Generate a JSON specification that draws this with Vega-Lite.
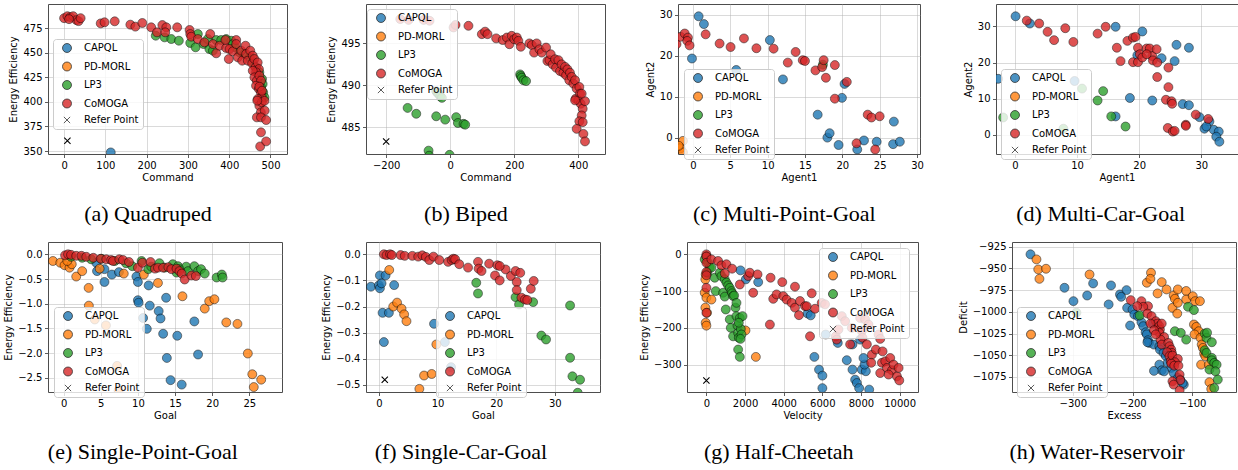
{
"$schema": "https://vega.github.io/schema/vega-lite/v6.json",
"padding": {"left": 3, "top": 3, "right": 0, "bottom": 0},
"spacing": 15,
"align": "none",
"resolve": {"scale": {"color": "independent", "shape": "independent"}, "legend": {"color": "independent", "shape": "independent"}},
"datasets": {
"a": [
{"x":113,"y":348.6,"m":"CAPQL"},
{"x":222,"y":467.2,"m":"LP3"},{"x":243.5,"y":465.5,"m":"LP3"},{"x":259.7,"y":463.8,"m":"LP3"},{"x":278,"y":462.1,"m":"LP3"},{"x":305.6,"y":459.8,"m":"LP3"},{"x":318.5,"y":455.4,"m":"LP3"},{"x":324,"y":468.9,"m":"LP3"},{"x":338,"y":458.7,"m":"LP3"},{"x":352,"y":453.7,"m":"LP3"},{"x":360.5,"y":452,"m":"LP3"},{"x":368.5,"y":462.8,"m":"LP3"},{"x":380.6,"y":462.8,"m":"LP3"},{"x":392.7,"y":463.8,"m":"LP3"},{"x":405,"y":462.1,"m":"LP3"},{"x":409,"y":458.7,"m":"LP3"},{"x":415,"y":455.4,"m":"LP3"},{"x":425,"y":450.3,"m":"LP3"},{"x":437,"y":448.6,"m":"LP3"},{"x":450,"y":445.2,"m":"LP3"},{"x":457,"y":440.1,"m":"LP3"},{"x":465,"y":435,"m":"LP3"},{"x":473,"y":430,"m":"LP3"},{"x":479.5,"y":423.2,"m":"LP3"},{"x":481,"y":418.1,"m":"LP3"},{"x":482.3,"y":409.6,"m":"LP3"},{"x":485.5,"y":404.5,"m":"LP3"},{"x":477,"y":414.7,"m":"LP3"},{"x":348,"y":463.8,"m":"LP3"},
{"x":0,"y":485,"m":"CoMOGA"},{"x":8,"y":487,"m":"CoMOGA"},{"x":15,"y":486,"m":"CoMOGA"},{"x":22,"y":487,"m":"CoMOGA"},{"x":30,"y":483,"m":"CoMOGA"},{"x":35,"y":482,"m":"CoMOGA"},{"x":40,"y":485,"m":"CoMOGA"},{"x":12,"y":484,"m":"CoMOGA"},{"x":88.7,"y":479.7,"m":"CoMOGA"},{"x":98,"y":480.8,"m":"CoMOGA"},{"x":122.6,"y":481.8,"m":"CoMOGA"},{"x":160.5,"y":478.4,"m":"CoMOGA"},{"x":172.6,"y":476.4,"m":"CoMOGA"},{"x":189.5,"y":480.1,"m":"CoMOGA"},{"x":211,"y":475.7,"m":"CoMOGA"},{"x":225,"y":470.6,"m":"CoMOGA"},{"x":238,"y":478,"m":"CoMOGA"},{"x":247.6,"y":475.7,"m":"CoMOGA"},{"x":245,"y":470.6,"m":"CoMOGA"},{"x":274,"y":475.7,"m":"CoMOGA"},{"x":304,"y":473,"m":"CoMOGA"},{"x":305.6,"y":468.9,"m":"CoMOGA"},{"x":308,"y":466.2,"m":"CoMOGA"},{"x":324,"y":463.8,"m":"CoMOGA"},{"x":340,"y":460.4,"m":"CoMOGA"},{"x":354,"y":468.9,"m":"CoMOGA"},{"x":360.5,"y":458.7,"m":"CoMOGA"},{"x":368.5,"y":449.3,"m":"CoMOGA"},{"x":376.6,"y":457,"m":"CoMOGA"},{"x":392.7,"y":454.7,"m":"CoMOGA"},{"x":391,"y":462.8,"m":"CoMOGA"},{"x":400.8,"y":453.7,"m":"CoMOGA"},{"x":399,"y":443.5,"m":"CoMOGA"},{"x":408.9,"y":451.3,"m":"CoMOGA"},{"x":417,"y":462.8,"m":"CoMOGA"},{"x":417,"y":458.7,"m":"CoMOGA"},{"x":421,"y":445.2,"m":"CoMOGA"},{"x":429,"y":452,"m":"CoMOGA"},{"x":431.5,"y":441.8,"m":"CoMOGA"},{"x":439.5,"y":457,"m":"CoMOGA"},{"x":441,"y":448.6,"m":"CoMOGA"},{"x":445,"y":441.8,"m":"CoMOGA"},{"x":451,"y":452,"m":"CoMOGA"},{"x":455.6,"y":439,"m":"CoMOGA"},{"x":457,"y":446.9,"m":"CoMOGA"},{"x":461,"y":443.5,"m":"CoMOGA"},{"x":463.7,"y":435,"m":"CoMOGA"},{"x":469,"y":440,"m":"CoMOGA"},{"x":472,"y":433.3,"m":"CoMOGA"},{"x":465,"y":430,"m":"CoMOGA"},{"x":457,"y":431.6,"m":"CoMOGA"},{"x":461,"y":424.9,"m":"CoMOGA"},{"x":467,"y":421.5,"m":"CoMOGA"},{"x":473,"y":426.6,"m":"CoMOGA"},{"x":477,"y":421.5,"m":"CoMOGA"},{"x":465,"y":416.4,"m":"CoMOGA"},{"x":472,"y":413,"m":"CoMOGA"},{"x":477,"y":409.6,"m":"CoMOGA"},{"x":473,"y":415.4,"m":"CoMOGA"},{"x":479,"y":404.5,"m":"CoMOGA"},{"x":469,"y":402.8,"m":"CoMOGA"},{"x":473,"y":396,"m":"CoMOGA"},{"x":479,"y":399.5,"m":"CoMOGA"},{"x":485.5,"y":401,"m":"CoMOGA"},{"x":476.6,"y":389.3,"m":"CoMOGA"},{"x":486,"y":391,"m":"CoMOGA"},{"x":467,"y":384.2,"m":"CoMOGA"},{"x":477,"y":384.2,"m":"CoMOGA"},{"x":489.5,"y":381.5,"m":"CoMOGA"},{"x":477,"y":369,"m":"CoMOGA"},{"x":475,"y":354.7,"m":"CoMOGA"},{"x":489.5,"y":359.8,"m":"CoMOGA"},{"x":468,"y":401.2,"m":"CoMOGA"},{"x":479.5,"y":411.3,"m":"CoMOGA"},
{"x":8,"y":360.5,"m":"Refer Point"}
],
"b": [
{"x":-133,"y":487.3,"m":"LP3"},{"x":-106,"y":486.6,"m":"LP3"},{"x":-43.7,"y":489.3,"m":"LP3"},{"x":-40,"y":489.1,"m":"LP3"},{"x":-36.4,"y":489,"m":"LP3"},{"x":-31.2,"y":488.7,"m":"LP3"},{"x":-26,"y":488.5,"m":"LP3"},{"x":-43.7,"y":486.3,"m":"LP3"},{"x":-15.6,"y":485.9,"m":"LP3"},{"x":18.7,"y":486.2,"m":"LP3"},{"x":24,"y":485.5,"m":"LP3"},{"x":41.6,"y":485.4,"m":"LP3"},{"x":46.8,"y":485.3,"m":"LP3"},{"x":218.4,"y":491.3,"m":"LP3"},{"x":220.5,"y":491.1,"m":"LP3"},{"x":223.6,"y":490.9,"m":"LP3"},{"x":228.8,"y":490.6,"m":"LP3"},{"x":237,"y":490.5,"m":"LP3"},{"x":-67.6,"y":482.2,"m":"LP3"},{"x":-2,"y":481.7,"m":"LP3"},{"x":-66,"y":481.6,"m":"LP3"},
{"x":-156,"y":497.9,"m":"CoMOGA"},{"x":-130,"y":497.8,"m":"CoMOGA"},{"x":-83,"y":497.8,"m":"CoMOGA"},{"x":-64.5,"y":497.7,"m":"CoMOGA"},{"x":10.4,"y":496.9,"m":"CoMOGA"},{"x":16.6,"y":497.2,"m":"CoMOGA"},{"x":57,"y":497.1,"m":"CoMOGA"},{"x":98.8,"y":496.1,"m":"CoMOGA"},{"x":109,"y":496.4,"m":"CoMOGA"},{"x":116.5,"y":496.1,"m":"CoMOGA"},{"x":143.5,"y":495.6,"m":"CoMOGA"},{"x":164,"y":495.4,"m":"CoMOGA"},{"x":177,"y":495.7,"m":"CoMOGA"},{"x":185,"y":494.9,"m":"CoMOGA"},{"x":192,"y":495.9,"m":"CoMOGA"},{"x":200,"y":495.5,"m":"CoMOGA"},{"x":208,"y":495.7,"m":"CoMOGA"},{"x":213,"y":495.3,"m":"CoMOGA"},{"x":220.5,"y":494.6,"m":"CoMOGA"},{"x":247.5,"y":495,"m":"CoMOGA"},{"x":255,"y":494.8,"m":"CoMOGA"},{"x":262,"y":493.9,"m":"CoMOGA"},{"x":270,"y":495,"m":"CoMOGA"},{"x":278.7,"y":494.3,"m":"CoMOGA"},{"x":286,"y":493.9,"m":"CoMOGA"},{"x":299.5,"y":494.5,"m":"CoMOGA"},{"x":303.6,"y":492.9,"m":"CoMOGA"},{"x":310,"y":493,"m":"CoMOGA"},{"x":314,"y":493.7,"m":"CoMOGA"},{"x":320,"y":492.5,"m":"CoMOGA"},{"x":327.5,"y":493.1,"m":"CoMOGA"},{"x":330.7,"y":492.1,"m":"CoMOGA"},{"x":338,"y":493,"m":"CoMOGA"},{"x":343,"y":491.7,"m":"CoMOGA"},{"x":348,"y":492.5,"m":"CoMOGA"},{"x":353.5,"y":491.5,"m":"CoMOGA"},{"x":358.7,"y":492.2,"m":"CoMOGA"},{"x":362,"y":491.2,"m":"CoMOGA"},{"x":366,"y":491.9,"m":"CoMOGA"},{"x":372,"y":490.6,"m":"CoMOGA"},{"x":374,"y":491.5,"m":"CoMOGA"},{"x":379.5,"y":491,"m":"CoMOGA"},{"x":384.7,"y":490.2,"m":"CoMOGA"},{"x":390,"y":490.6,"m":"CoMOGA"},{"x":395,"y":489.6,"m":"CoMOGA"},{"x":392,"y":488.4,"m":"CoMOGA"},{"x":403.4,"y":489.8,"m":"CoMOGA"},{"x":405.5,"y":489,"m":"CoMOGA"},{"x":400.3,"y":488.2,"m":"CoMOGA"},{"x":407.6,"y":487.8,"m":"CoMOGA"},{"x":413.8,"y":487.2,"m":"CoMOGA"},{"x":421,"y":488.1,"m":"CoMOGA"},{"x":410.7,"y":486.4,"m":"CoMOGA"},{"x":403.4,"y":485.7,"m":"CoMOGA"},{"x":413.8,"y":485.6,"m":"CoMOGA"},{"x":395,"y":484.8,"m":"CoMOGA"},{"x":416,"y":484.2,"m":"CoMOGA"},{"x":421,"y":483.3,"m":"CoMOGA"},{"x":410.7,"y":489,"m":"CoMOGA"},{"x":390,"y":488.2,"m":"CoMOGA"},
{"x":-200,"y":483.3,"m":"Refer Point"}
],
"c": [
{"x":0.76,"y":29.6,"m":"CAPQL"},{"x":1.47,"y":27.7,"m":"CAPQL"},{"x":-0.13,"y":19.3,"m":"CAPQL"},{"x":5.8,"y":16.5,"m":"CAPQL"},{"x":10.3,"y":23.8,"m":"CAPQL"},{"x":12.05,"y":14.2,"m":"CAPQL"},{"x":16.7,"y":5.6,"m":"CAPQL"},{"x":18,"y":0,"m":"CAPQL"},{"x":18.3,"y":1.07,"m":"CAPQL"},{"x":19.5,"y":-1.8,"m":"CAPQL"},{"x":20.3,"y":13.1,"m":"CAPQL"},{"x":19.95,"y":9.7,"m":"CAPQL"},{"x":22,"y":-2.9,"m":"CAPQL"},{"x":22.9,"y":-0.7,"m":"CAPQL"},{"x":24.6,"y":-1.0,"m":"CAPQL"},{"x":26.8,"y":-1.6,"m":"CAPQL"},{"x":27.7,"y":-1.0,"m":"CAPQL"},{"x":26.9,"y":3.9,"m":"CAPQL"},
{"x":-1.34,"y":-0.8,"m":"PD-MORL"},{"x":-1.65,"y":-2.6,"m":"PD-MORL"},{"x":-1.34,"y":-3.6,"m":"PD-MORL"},{"x":-1.9,"y":-2.0,"m":"PD-MORL"},
{"x":17.4,"y":17.8,"m":"LP3"},
{"x":-2.2,"y":22.8,"m":"CoMOGA"},{"x":-1.65,"y":24.6,"m":"CoMOGA"},{"x":-1.1,"y":25.4,"m":"CoMOGA"},{"x":-0.67,"y":24.4,"m":"CoMOGA"},{"x":-0.76,"y":23.6,"m":"CoMOGA"},{"x":-0.45,"y":22.5,"m":"CoMOGA"},{"x":1.7,"y":25.2,"m":"CoMOGA"},{"x":3.57,"y":22.95,"m":"CoMOGA"},{"x":5.04,"y":22.1,"m":"CoMOGA"},{"x":6.83,"y":24.2,"m":"CoMOGA"},{"x":8.5,"y":21.8,"m":"CoMOGA"},{"x":10.8,"y":21.7,"m":"CoMOGA"},{"x":12.7,"y":18.3,"m":"CoMOGA"},{"x":13.75,"y":20.9,"m":"CoMOGA"},{"x":14.7,"y":18.9,"m":"CoMOGA"},{"x":15.0,"y":18.7,"m":"CoMOGA"},{"x":16.4,"y":16.4,"m":"CoMOGA"},{"x":17.3,"y":17.2,"m":"CoMOGA"},{"x":17.5,"y":18.9,"m":"CoMOGA"},{"x":17.8,"y":14.6,"m":"CoMOGA"},{"x":19.0,"y":17.7,"m":"CoMOGA"},{"x":19.0,"y":9.5,"m":"CoMOGA"},{"x":20.6,"y":13.6,"m":"CoMOGA"},{"x":23.4,"y":5.6,"m":"CoMOGA"},{"x":23.9,"y":4.9,"m":"CoMOGA"},{"x":25.0,"y":5.2,"m":"CoMOGA"},{"x":21.9,"y":-1.4,"m":"CoMOGA"},{"x":24.4,"y":-2.9,"m":"CoMOGA"}
],
"d": [
{"x":0.1,"y":32.8,"m":"CAPQL"},{"x":2.4,"y":30.8,"m":"CAPQL"},{"x":-2.7,"y":15.5,"m":"CAPQL"},{"x":9.6,"y":14.9,"m":"CAPQL"},{"x":16.2,"y":29.9,"m":"CAPQL"},{"x":20.5,"y":28.6,"m":"CAPQL"},{"x":19.7,"y":22.0,"m":"CAPQL"},{"x":23.6,"y":21.2,"m":"CAPQL"},{"x":25.7,"y":20.4,"m":"CAPQL"},{"x":26,"y":24.9,"m":"CAPQL"},{"x":28,"y":24.1,"m":"CAPQL"},{"x":18.5,"y":10.2,"m":"CAPQL"},{"x":22.1,"y":9.5,"m":"CAPQL"},{"x":16.2,"y":5.1,"m":"CAPQL"},{"x":27,"y":8.5,"m":"CAPQL"},{"x":28,"y":8.2,"m":"CAPQL"},{"x":29.7,"y":4.9,"m":"CAPQL"},{"x":30.5,"y":1.7,"m":"CAPQL"},{"x":31.3,"y":3.7,"m":"CAPQL"},{"x":32,"y":1.4,"m":"CAPQL"},{"x":32.8,"y":0.9,"m":"CAPQL"},{"x":32.4,"y":-0.5,"m":"CAPQL"},{"x":32.9,"y":-1.9,"m":"CAPQL"},{"x":30.8,"y":2.3,"m":"CAPQL"},
{"x":-1.9,"y":4.8,"m":"LP3"},{"x":10.8,"y":12.8,"m":"LP3"},{"x":7.8,"y":1.7,"m":"LP3"},{"x":14.2,"y":12.1,"m":"LP3"},{"x":13.3,"y":9.5,"m":"LP3"},{"x":15.5,"y":5.1,"m":"LP3"},{"x":17.8,"y":2.3,"m":"LP3"},
{"x":1.9,"y":31.6,"m":"CoMOGA"},{"x":3.9,"y":30.8,"m":"CoMOGA"},{"x":5.25,"y":28.5,"m":"CoMOGA"},{"x":6.3,"y":26.2,"m":"CoMOGA"},{"x":8.1,"y":29.5,"m":"CoMOGA"},{"x":9.4,"y":25.7,"m":"CoMOGA"},{"x":13.3,"y":28.0,"m":"CoMOGA"},{"x":14.6,"y":29.9,"m":"CoMOGA"},{"x":16.4,"y":24.1,"m":"CoMOGA"},{"x":18.1,"y":26.0,"m":"CoMOGA"},{"x":17.0,"y":20.4,"m":"CoMOGA"},{"x":19,"y":26.9,"m":"CoMOGA"},{"x":19.4,"y":27.1,"m":"CoMOGA"},{"x":19.8,"y":24.1,"m":"CoMOGA"},{"x":19.0,"y":20.1,"m":"CoMOGA"},{"x":19.8,"y":20.1,"m":"CoMOGA"},{"x":20.1,"y":22.3,"m":"CoMOGA"},{"x":20.5,"y":21.4,"m":"CoMOGA"},{"x":21.2,"y":23.9,"m":"CoMOGA"},{"x":21.7,"y":23.9,"m":"CoMOGA"},{"x":22.1,"y":21.8,"m":"CoMOGA"},{"x":22.2,"y":20.6,"m":"CoMOGA"},{"x":22.8,"y":23.7,"m":"CoMOGA"},{"x":22.9,"y":20.0,"m":"CoMOGA"},{"x":22.9,"y":16.0,"m":"CoMOGA"},{"x":24.7,"y":18.6,"m":"CoMOGA"},{"x":24.7,"y":13.2,"m":"CoMOGA"},{"x":24.3,"y":9.7,"m":"CoMOGA"},{"x":25.2,"y":9.3,"m":"CoMOGA"},{"x":25.3,"y":8.6,"m":"CoMOGA"},{"x":24.6,"y":1.9,"m":"CoMOGA"},{"x":25.4,"y":0.9,"m":"CoMOGA"},{"x":25.7,"y":1.1,"m":"CoMOGA"},{"x":27.5,"y":2.8,"m":"CoMOGA"},{"x":27.5,"y":2.5,"m":"CoMOGA"},{"x":29.1,"y":5.6,"m":"CoMOGA"},{"x":31.1,"y":4.4,"m":"CoMOGA"},{"x":21.2,"y":22.3,"m":"CoMOGA"}
],
"e": [
{"x":4.4,"y":-0.17,"m":"CAPQL"},{"x":4.5,"y":-0.34,"m":"CAPQL"},{"x":5.5,"y":-0.30,"m":"CAPQL"},{"x":5.5,"y":-0.56,"m":"CAPQL"},{"x":6.5,"y":-0.41,"m":"CAPQL"},{"x":7.45,"y":-0.36,"m":"CAPQL"},{"x":9.8,"y":-0.45,"m":"CAPQL"},{"x":10.0,"y":-0.56,"m":"CAPQL"},{"x":10.0,"y":-0.93,"m":"CAPQL"},{"x":10.1,"y":-0.98,"m":"CAPQL"},{"x":10.7,"y":-1.29,"m":"CAPQL"},{"x":11.2,"y":-1.51,"m":"CAPQL"},{"x":11.45,"y":-0.63,"m":"CAPQL"},{"x":11.6,"y":-1.04,"m":"CAPQL"},{"x":12.8,"y":-1.15,"m":"CAPQL"},{"x":13.05,"y":-1.30,"m":"CAPQL"},{"x":13.4,"y":-1.61,"m":"CAPQL"},{"x":13.8,"y":-0.88,"m":"CAPQL"},{"x":13.9,"y":-2.10,"m":"CAPQL"},{"x":14.4,"y":-2.55,"m":"CAPQL"},{"x":15.3,"y":-1.65,"m":"CAPQL"},{"x":15.9,"y":-2.64,"m":"CAPQL"},{"x":17.6,"y":-1.36,"m":"CAPQL"},{"x":18.1,"y":-2.03,"m":"CAPQL"},
{"x":-1.44,"y":-0.135,"m":"PD-MORL"},{"x":-0.45,"y":-0.17,"m":"PD-MORL"},{"x":0.13,"y":-0.22,"m":"PD-MORL"},{"x":0.8,"y":-0.27,"m":"PD-MORL"},{"x":1.1,"y":-0.2,"m":"PD-MORL"},{"x":0.5,"y":-0.135,"m":"PD-MORL"},{"x":1.7,"y":-0.45,"m":"PD-MORL"},{"x":2.5,"y":-0.34,"m":"PD-MORL"},{"x":3.37,"y":-0.68,"m":"PD-MORL"},{"x":3.4,"y":-1.04,"m":"PD-MORL"},{"x":4.2,"y":-1.32,"m":"PD-MORL"},{"x":5.7,"y":-1.44,"m":"PD-MORL"},{"x":4.85,"y":-0.29,"m":"PD-MORL"},{"x":8.1,"y":-0.39,"m":"PD-MORL"},{"x":7.2,"y":-2.26,"m":"PD-MORL"},{"x":7.4,"y":-2.76,"m":"PD-MORL"},{"x":10.8,"y":-0.41,"m":"PD-MORL"},{"x":12.7,"y":-0.58,"m":"PD-MORL"},{"x":16.0,"y":-0.85,"m":"PD-MORL"},{"x":19.0,"y":-1.10,"m":"PD-MORL"},{"x":19.6,"y":-0.95,"m":"PD-MORL"},{"x":20.3,"y":-0.91,"m":"PD-MORL"},{"x":21.9,"y":-1.38,"m":"PD-MORL"},{"x":23.4,"y":-1.41,"m":"PD-MORL"},{"x":24.8,"y":-2.01,"m":"PD-MORL"},{"x":25.4,"y":-2.43,"m":"PD-MORL"},{"x":25.6,"y":-2.69,"m":"PD-MORL"},{"x":26.6,"y":-2.54,"m":"PD-MORL"},
{"x":1.0,"y":-0.05,"m":"LP3"},{"x":2.5,"y":-0.07,"m":"LP3"},{"x":3.7,"y":-0.1,"m":"LP3"},{"x":5.1,"y":-0.09,"m":"LP3"},{"x":6.9,"y":-0.135,"m":"LP3"},{"x":8.4,"y":-0.18,"m":"LP3"},{"x":9.25,"y":-0.24,"m":"LP3"},{"x":10.5,"y":-0.135,"m":"LP3"},{"x":11.4,"y":-0.3,"m":"LP3"},{"x":11.8,"y":-0.25,"m":"LP3"},{"x":12.9,"y":-0.18,"m":"LP3"},{"x":13.6,"y":-0.27,"m":"LP3"},{"x":14.7,"y":-0.2,"m":"LP3"},{"x":15.4,"y":-0.24,"m":"LP3"},{"x":16.5,"y":-0.25,"m":"LP3"},{"x":16.75,"y":-0.34,"m":"LP3"},{"x":17.6,"y":-0.24,"m":"LP3"},{"x":18.1,"y":-0.34,"m":"LP3"},{"x":18.5,"y":-0.30,"m":"LP3"},{"x":19.0,"y":-0.39,"m":"LP3"},{"x":20.6,"y":-0.47,"m":"LP3"},{"x":21.3,"y":-0.41,"m":"LP3"},{"x":21.4,"y":-0.47,"m":"LP3"},{"x":15.6,"y":-0.3,"m":"LP3"},{"x":15.2,"y":-0.37,"m":"LP3"},
{"x":0.2,"y":-0.02,"m":"CoMOGA"},{"x":0.6,"y":0,"m":"CoMOGA"},{"x":1.0,"y":-0.01,"m":"CoMOGA"},{"x":1.7,"y":-0.03,"m":"CoMOGA"},{"x":2.4,"y":-0.03,"m":"CoMOGA"},{"x":3.05,"y":-0.05,"m":"CoMOGA"},{"x":4.0,"y":-0.07,"m":"CoMOGA"},{"x":5.0,"y":-0.09,"m":"CoMOGA"},{"x":5.75,"y":-0.1,"m":"CoMOGA"},{"x":6.4,"y":-0.115,"m":"CoMOGA"},{"x":6.65,"y":-0.135,"m":"CoMOGA"},{"x":7.5,"y":-0.1,"m":"CoMOGA"},{"x":8.0,"y":-0.115,"m":"CoMOGA"},{"x":8.8,"y":-0.155,"m":"CoMOGA"},{"x":10.0,"y":-0.27,"m":"CoMOGA"},{"x":10.6,"y":-0.17,"m":"CoMOGA"},{"x":11.7,"y":-0.155,"m":"CoMOGA"},{"x":12.3,"y":-0.29,"m":"CoMOGA"},{"x":12.7,"y":-0.27,"m":"CoMOGA"},{"x":13.4,"y":-0.27,"m":"CoMOGA"},{"x":14.1,"y":-0.26,"m":"CoMOGA"},{"x":14.5,"y":-0.3,"m":"CoMOGA"},{"x":15.2,"y":-0.29,"m":"CoMOGA"},{"x":15.6,"y":-0.34,"m":"CoMOGA"},{"x":15.9,"y":-0.39,"m":"CoMOGA"},{"x":16.3,"y":-0.51,"m":"CoMOGA"},{"x":17.2,"y":-0.43,"m":"CoMOGA"},{"x":17.8,"y":-0.44,"m":"CoMOGA"}
],
"f": [
{"x":-1.36,"y":-0.124,"m":"CAPQL"},{"x":0.17,"y":-0.081,"m":"CAPQL"},{"x":0,"y":-0.119,"m":"CAPQL"},{"x":0.17,"y":-0.13,"m":"CAPQL"},{"x":0.45,"y":-0.111,"m":"CAPQL"},{"x":1.14,"y":-0.081,"m":"CAPQL"},{"x":2.6,"y":-0.118,"m":"CAPQL"},{"x":0.63,"y":-0.224,"m":"CAPQL"},{"x":1.7,"y":-0.224,"m":"CAPQL"},{"x":0.85,"y":-0.336,"m":"CAPQL"},{"x":9.4,"y":-0.266,"m":"CAPQL"},{"x":11.25,"y":-0.336,"m":"CAPQL"},{"x":12.3,"y":-0.432,"m":"CAPQL"},
{"x":1.76,"y":-0.06,"m":"PD-MORL"},{"x":2.44,"y":-0.2,"m":"PD-MORL"},{"x":3.1,"y":-0.185,"m":"PD-MORL"},{"x":3.86,"y":-0.208,"m":"PD-MORL"},{"x":4.3,"y":-0.23,"m":"PD-MORL"},{"x":4.7,"y":-0.256,"m":"PD-MORL"},{"x":9.8,"y":-0.345,"m":"PD-MORL"},{"x":7.7,"y":-0.464,"m":"PD-MORL"},{"x":9.0,"y":-0.458,"m":"PD-MORL"},{"x":6.9,"y":-0.515,"m":"PD-MORL"},
{"x":16.6,"y":-0.109,"m":"LP3"},{"x":16.9,"y":-0.15,"m":"LP3"},{"x":23.3,"y":-0.164,"m":"LP3"},{"x":23.9,"y":-0.192,"m":"LP3"},{"x":26.3,"y":-0.183,"m":"LP3"},{"x":27.7,"y":-0.311,"m":"LP3"},{"x":28.5,"y":-0.326,"m":"LP3"},{"x":32.6,"y":-0.196,"m":"LP3"},{"x":32.6,"y":-0.396,"m":"LP3"},{"x":33.0,"y":-0.467,"m":"LP3"},{"x":34.3,"y":-0.48,"m":"LP3"},{"x":33.9,"y":-0.53,"m":"LP3"},
{"x":0.85,"y":0,"m":"CoMOGA"},{"x":1.3,"y":-0.003,"m":"CoMOGA"},{"x":1.9,"y":0,"m":"CoMOGA"},{"x":2.2,"y":-0.003,"m":"CoMOGA"},{"x":3.7,"y":-0.003,"m":"CoMOGA"},{"x":4.4,"y":-0.006,"m":"CoMOGA"},{"x":5.7,"y":-0.006,"m":"CoMOGA"},{"x":6.7,"y":-0.009,"m":"CoMOGA"},{"x":7.4,"y":-0.004,"m":"CoMOGA"},{"x":8.0,"y":-0.01,"m":"CoMOGA"},{"x":8.6,"y":-0.022,"m":"CoMOGA"},{"x":9.3,"y":-0.009,"m":"CoMOGA"},{"x":10.3,"y":-0.022,"m":"CoMOGA"},{"x":11.8,"y":-0.029,"m":"CoMOGA"},{"x":12.4,"y":-0.022,"m":"CoMOGA"},{"x":12.7,"y":-0.017,"m":"CoMOGA"},{"x":13.0,"y":-0.019,"m":"CoMOGA"},{"x":13.7,"y":-0.038,"m":"CoMOGA"},{"x":15.2,"y":-0.051,"m":"CoMOGA"},{"x":16.9,"y":-0.029,"m":"CoMOGA"},{"x":17.0,"y":-0.055,"m":"CoMOGA"},{"x":17.5,"y":-0.064,"m":"CoMOGA"},{"x":18.8,"y":-0.036,"m":"CoMOGA"},{"x":19.8,"y":-0.081,"m":"CoMOGA"},{"x":20.2,"y":-0.042,"m":"CoMOGA"},{"x":20.6,"y":-0.1,"m":"CoMOGA"},{"x":21.6,"y":-0.058,"m":"CoMOGA"},{"x":22.5,"y":-0.083,"m":"CoMOGA"},{"x":23.3,"y":-0.064,"m":"CoMOGA"},{"x":23.5,"y":-0.106,"m":"CoMOGA"},{"x":23.5,"y":-0.137,"m":"CoMOGA"},{"x":24.1,"y":-0.071,"m":"CoMOGA"},{"x":24.3,"y":-0.166,"m":"CoMOGA"},{"x":24.9,"y":-0.173,"m":"CoMOGA"},{"x":25.3,"y":-0.175,"m":"CoMOGA"},{"x":25.9,"y":-0.132,"m":"CoMOGA"},{"x":26.4,"y":-0.102,"m":"CoMOGA"},{"x":20.6,"y":-0.045,"m":"CoMOGA"},
{"x":1.0,"y":-0.48,"m":"Refer Point"}
],
"g": [
{"x":1765,"y":-43.6,"m":"CAPQL"},{"x":2041,"y":-68,"m":"CAPQL"},{"x":2681,"y":-75.5,"m":"CAPQL"},{"x":5242,"y":-161,"m":"CAPQL"},{"x":5398,"y":-166,"m":"CAPQL"},{"x":5588,"y":-279,"m":"CAPQL"},{"x":5830,"y":-313.6,"m":"CAPQL"},{"x":6003,"y":-330,"m":"CAPQL"},{"x":6003,"y":-364,"m":"CAPQL"},{"x":6176,"y":-218,"m":"CAPQL"},{"x":6799,"y":-241,"m":"CAPQL"},{"x":7266,"y":-288,"m":"CAPQL"},{"x":7560,"y":-245,"m":"CAPQL"},{"x":7560,"y":-313.6,"m":"CAPQL"},{"x":7698,"y":-341,"m":"CAPQL"},{"x":7785,"y":-350,"m":"CAPQL"},{"x":7906,"y":-364,"m":"CAPQL"},{"x":8044,"y":-313.6,"m":"CAPQL"},{"x":8252,"y":-318,"m":"CAPQL"},{"x":8183,"y":-300,"m":"CAPQL"},{"x":8425,"y":-368,"m":"CAPQL"},{"x":7958,"y":-232,"m":"CAPQL"},{"x":8131,"y":-282,"m":"CAPQL"},
{"x":-35,"y":-54.5,"m":"PD-MORL"},{"x":-52,"y":-68,"m":"PD-MORL"},{"x":-87,"y":-104.5,"m":"PD-MORL"},{"x":0,"y":-118,"m":"PD-MORL"},{"x":-52,"y":-145,"m":"PD-MORL"},{"x":35,"y":-159,"m":"PD-MORL"},{"x":-35,"y":-186,"m":"PD-MORL"},{"x":0,"y":-194,"m":"PD-MORL"},{"x":260,"y":-123,"m":"PD-MORL"},{"x":2024,"y":-207,"m":"PD-MORL"},{"x":2560,"y":-279,"m":"PD-MORL"},
{"x":-87,"y":-13.6,"m":"LP3"},{"x":0,"y":-4.5,"m":"LP3"},{"x":87,"y":-22.7,"m":"LP3"},{"x":173,"y":-36,"m":"LP3"},{"x":52,"y":-50,"m":"LP3"},{"x":260,"y":-36,"m":"LP3"},{"x":433,"y":-63.6,"m":"LP3"},{"x":484,"y":-100,"m":"LP3"},{"x":692,"y":-50,"m":"LP3"},{"x":779,"y":-59,"m":"LP3"},{"x":865,"y":-104.5,"m":"LP3"},{"x":952,"y":-68,"m":"LP3"},{"x":952,"y":-115,"m":"LP3"},{"x":1038,"y":-77,"m":"LP3"},{"x":1125,"y":-84.5,"m":"LP3"},{"x":1211,"y":-91,"m":"LP3"},{"x":1298,"y":-100,"m":"LP3"},{"x":1332,"y":-106,"m":"LP3"},{"x":1384,"y":-113.6,"m":"LP3"},{"x":1436,"y":-112,"m":"LP3"},{"x":1003,"y":-150,"m":"LP3"},{"x":1211,"y":-177,"m":"LP3"},{"x":1263,"y":-200,"m":"LP3"},{"x":1384,"y":-223,"m":"LP3"},{"x":1505,"y":-145,"m":"LP3"},{"x":1557,"y":-168,"m":"LP3"},{"x":1609,"y":-194,"m":"LP3"},{"x":1644,"y":-214,"m":"LP3"},{"x":1678,"y":-227,"m":"LP3"},{"x":1730,"y":-173,"m":"LP3"},{"x":1782,"y":-203,"m":"LP3"},{"x":1817,"y":-218,"m":"LP3"},{"x":1869,"y":-168,"m":"LP3"},{"x":1644,"y":-259,"m":"LP3"},{"x":1730,"y":-279,"m":"LP3"},{"x":1557,"y":-132,"m":"LP3"},{"x":1678,"y":-186,"m":"LP3"},{"x":1765,"y":-230,"m":"LP3"},
{"x":0,"y":0,"m":"CoMOGA"},{"x":0,"y":-6,"m":"CoMOGA"},{"x":0,"y":-23,"m":"CoMOGA"},{"x":0,"y":-48,"m":"CoMOGA"},{"x":0,"y":-57,"m":"CoMOGA"},{"x":0,"y":-91,"m":"CoMOGA"},{"x":0,"y":-159,"m":"CoMOGA"},{"x":260,"y":-13.6,"m":"CoMOGA"},{"x":606,"y":-18,"m":"CoMOGA"},{"x":779,"y":-30,"m":"CoMOGA"},{"x":1038,"y":-27,"m":"CoMOGA"},{"x":1332,"y":-39,"m":"CoMOGA"},{"x":952,"y":-52,"m":"CoMOGA"},{"x":1730,"y":-82,"m":"CoMOGA"},{"x":2163,"y":-59,"m":"CoMOGA"},{"x":2249,"y":-50,"m":"CoMOGA"},{"x":2422,"y":-104.5,"m":"CoMOGA"},{"x":2647,"y":-54.5,"m":"CoMOGA"},{"x":3322,"y":-63.6,"m":"CoMOGA"},{"x":3460,"y":-121,"m":"CoMOGA"},{"x":3287,"y":-191,"m":"CoMOGA"},{"x":3633,"y":-109,"m":"CoMOGA"},{"x":3927,"y":-75.5,"m":"CoMOGA"},{"x":3979,"y":-113.6,"m":"CoMOGA"},{"x":4152,"y":-123,"m":"CoMOGA"},{"x":4412,"y":-132,"m":"CoMOGA"},{"x":4585,"y":-145,"m":"CoMOGA"},{"x":4585,"y":-88,"m":"CoMOGA"},{"x":4792,"y":-165.5,"m":"CoMOGA"},{"x":4844,"y":-127,"m":"CoMOGA"},{"x":5103,"y":-141,"m":"CoMOGA"},{"x":5363,"y":-223,"m":"CoMOGA"},{"x":5450,"y":-106,"m":"CoMOGA"},{"x":5190,"y":-141,"m":"CoMOGA"},{"x":5623,"y":-148,"m":"CoMOGA"},{"x":5969,"y":-132,"m":"CoMOGA"},{"x":6142,"y":-136,"m":"CoMOGA"},{"x":6695,"y":-223,"m":"CoMOGA"},{"x":6834,"y":-204.5,"m":"CoMOGA"},{"x":6747,"y":-232,"m":"CoMOGA"},{"x":7007,"y":-168,"m":"CoMOGA"},{"x":7180,"y":-182,"m":"CoMOGA"},{"x":7439,"y":-245,"m":"CoMOGA"},{"x":7526,"y":-200,"m":"CoMOGA"},{"x":7958,"y":-173,"m":"CoMOGA"},{"x":8044,"y":-209,"m":"CoMOGA"},{"x":8079,"y":-227,"m":"CoMOGA"},{"x":8218,"y":-177,"m":"CoMOGA"},{"x":8304,"y":-245,"m":"CoMOGA"},{"x":8390,"y":-191,"m":"CoMOGA"},{"x":8564,"y":-273,"m":"CoMOGA"},{"x":8771,"y":-259,"m":"CoMOGA"},{"x":8910,"y":-218,"m":"CoMOGA"},{"x":8996,"y":-230,"m":"CoMOGA"},{"x":9083,"y":-295,"m":"CoMOGA"},{"x":9117,"y":-264,"m":"CoMOGA"},{"x":9256,"y":-291,"m":"CoMOGA"},{"x":9342,"y":-309,"m":"CoMOGA"},{"x":9515,"y":-282,"m":"CoMOGA"},{"x":9602,"y":-315.5,"m":"CoMOGA"},{"x":9688,"y":-300,"m":"CoMOGA"},{"x":9861,"y":-332,"m":"CoMOGA"},{"x":9948,"y":-309,"m":"CoMOGA"},{"x":9982,"y":-343,"m":"CoMOGA"},{"x":8996,"y":-323,"m":"CoMOGA"},{"x":9429,"y":-327,"m":"CoMOGA"},{"x":8529,"y":-295,"m":"CoMOGA"},
{"x":0,"y":-343,"m":"Refer Point"}
],
"h": [
{"x":-371,"y":-933.8,"m":"CAPQL"},{"x":-314,"y":-972.3,"m":"CAPQL"},{"x":-299,"y":-987.7,"m":"CAPQL"},{"x":-276,"y":-981.2,"m":"CAPQL"},{"x":-266,"y":-967.3,"m":"CAPQL"},{"x":-240,"y":-991.5,"m":"CAPQL"},{"x":-236,"y":-969.6,"m":"CAPQL"},{"x":-221,"y":-980,"m":"CAPQL"},{"x":-210,"y":-975,"m":"CAPQL"},{"x":-204,"y":-1015.8,"m":"CAPQL"},{"x":-219,"y":-982.7,"m":"CAPQL"},{"x":-209,"y":-995.4,"m":"CAPQL"},{"x":-200,"y":-997.3,"m":"CAPQL"},{"x":-197,"y":-1003,"m":"CAPQL"},{"x":-191,"y":-1005,"m":"CAPQL"},{"x":-185,"y":-1012,"m":"CAPQL"},{"x":-182,"y":-1016.5,"m":"CAPQL"},{"x":-178,"y":-1023.5,"m":"CAPQL"},{"x":-176,"y":-1026,"m":"CAPQL"},{"x":-174,"y":-1032.7,"m":"CAPQL"},{"x":-172,"y":-1035.8,"m":"CAPQL"},{"x":-164,"y":-1037.7,"m":"CAPQL"},{"x":-155,"y":-1039.6,"m":"CAPQL"},{"x":-154,"y":-1043.5,"m":"CAPQL"},{"x":-148,"y":-1047.3,"m":"CAPQL"},{"x":-144,"y":-1051,"m":"CAPQL"},{"x":-141,"y":-1058.8,"m":"CAPQL"},{"x":-135,"y":-1064.6,"m":"CAPQL"},{"x":-131,"y":-1070.4,"m":"CAPQL"},{"x":-124,"y":-1076.2,"m":"CAPQL"},{"x":-114,"y":-1083.8,"m":"CAPQL"},{"x":-155,"y":-1060.8,"m":"CAPQL"},{"x":-151,"y":-1067.3,"m":"CAPQL"},{"x":-166,"y":-1013.5,"m":"CAPQL"},{"x":-147,"y":-1068.5,"m":"CAPQL"},{"x":-120,"y":-1078,"m":"CAPQL"},{"x":-116,"y":-1082,"m":"CAPQL"},{"x":-175,"y":-1035,"m":"CAPQL"},{"x":-164,"y":-1068,"m":"CAPQL"},
{"x":-361,"y":-939.6,"m":"PD-MORL"},{"x":-358,"y":-951.2,"m":"PD-MORL"},{"x":-345,"y":-950.4,"m":"PD-MORL"},{"x":-356,"y":-962,"m":"PD-MORL"},{"x":-272,"y":-957,"m":"PD-MORL"},{"x":-176,"y":-966.5,"m":"PD-MORL"},{"x":-169,"y":-955,"m":"PD-MORL"},{"x":-170,"y":-962,"m":"PD-MORL"},{"x":-158,"y":-978.8,"m":"PD-MORL"},{"x":-151,"y":-965.8,"m":"PD-MORL"},{"x":-143,"y":-974.2,"m":"PD-MORL"},{"x":-131,"y":-981.2,"m":"PD-MORL"},{"x":-129,"y":-985,"m":"PD-MORL"},{"x":-124,"y":-974.2,"m":"PD-MORL"},{"x":-110,"y":-976,"m":"PD-MORL"},{"x":-110,"y":-985.8,"m":"PD-MORL"},{"x":-99,"y":-982,"m":"PD-MORL"},{"x":-95,"y":-987.7,"m":"PD-MORL"},{"x":-87,"y":-987.7,"m":"PD-MORL"},{"x":-133,"y":-995.4,"m":"PD-MORL"},{"x":-125,"y":-1002,"m":"PD-MORL"},{"x":-124,"y":-989.6,"m":"PD-MORL"},{"x":-97,"y":-1014.6,"m":"PD-MORL"},{"x":-93,"y":-1017.3,"m":"PD-MORL"},{"x":-89,"y":-1022.3,"m":"PD-MORL"},{"x":-96,"y":-1026,"m":"PD-MORL"},{"x":-86,"y":-1030,"m":"PD-MORL"},{"x":-84,"y":-1037.7,"m":"PD-MORL"},{"x":-82,"y":-1041.5,"m":"PD-MORL"},{"x":-80,"y":-1048,"m":"PD-MORL"},{"x":-78,"y":-1051,"m":"PD-MORL"},{"x":-85,"y":-1060.8,"m":"PD-MORL"},{"x":-72,"y":-1060.8,"m":"PD-MORL"},{"x":-71,"y":-1081,"m":"PD-MORL"},{"x":-68,"y":-1088.8,"m":"PD-MORL"},
{"x":-294,"y":-1001,"m":"LP3"},{"x":-107,"y":-994.2,"m":"LP3"},{"x":-97,"y":-998,"m":"LP3"},{"x":-188,"y":-1004.2,"m":"LP3"},{"x":-129,"y":-1022.3,"m":"LP3"},{"x":-119,"y":-1024.2,"m":"LP3"},{"x":-110,"y":-1032,"m":"LP3"},{"x":-79,"y":-1025,"m":"LP3"},{"x":-76,"y":-1030,"m":"LP3"},{"x":-67,"y":-1035,"m":"LP3"},{"x":-79,"y":-1044.2,"m":"LP3"},{"x":-76,"y":-1047.3,"m":"LP3"},{"x":-67,"y":-1053,"m":"LP3"},{"x":-67,"y":-1055.8,"m":"LP3"},{"x":-63,"y":-1058.8,"m":"LP3"},{"x":-59,"y":-1060.8,"m":"LP3"},{"x":-71,"y":-1066.5,"m":"LP3"},{"x":-61,"y":-1068.5,"m":"LP3"},{"x":-57,"y":-1078,"m":"LP3"},{"x":-63,"y":-1087.7,"m":"LP3"},{"x":-75,"y":-1024,"m":"LP3"},
{"x":-203,"y":-986.5,"m":"CoMOGA"},{"x":-185,"y":-987.7,"m":"CoMOGA"},{"x":-174,"y":-993.5,"m":"CoMOGA"},{"x":-182,"y":-994.2,"m":"CoMOGA"},{"x":-175,"y":-1002,"m":"CoMOGA"},{"x":-168,"y":-1005,"m":"CoMOGA"},{"x":-161,"y":-1010.8,"m":"CoMOGA"},{"x":-158,"y":-1013.5,"m":"CoMOGA"},{"x":-155,"y":-1016.5,"m":"CoMOGA"},{"x":-154,"y":-1020.4,"m":"CoMOGA"},{"x":-151,"y":-1013.5,"m":"CoMOGA"},{"x":-155,"y":-1024.2,"m":"CoMOGA"},{"x":-147,"y":-1029,"m":"CoMOGA"},{"x":-153,"y":-1032,"m":"CoMOGA"},{"x":-151,"y":-1037.7,"m":"CoMOGA"},{"x":-140,"y":-1035.8,"m":"CoMOGA"},{"x":-138,"y":-1039.6,"m":"CoMOGA"},{"x":-135,"y":-1043.5,"m":"CoMOGA"},{"x":-134,"y":-1047.3,"m":"CoMOGA"},{"x":-142,"y":-1046.5,"m":"CoMOGA"},{"x":-138,"y":-1051,"m":"CoMOGA"},{"x":-136,"y":-1056.9,"m":"CoMOGA"},{"x":-133,"y":-1050.4,"m":"CoMOGA"},{"x":-124,"y":-1054.2,"m":"CoMOGA"},{"x":-129,"y":-1058,"m":"CoMOGA"},{"x":-135,"y":-1059.6,"m":"CoMOGA"},{"x":-130,"y":-1062,"m":"CoMOGA"},{"x":-123,"y":-1062,"m":"CoMOGA"},{"x":-121,"y":-1072.3,"m":"CoMOGA"},{"x":-120,"y":-1078.8,"m":"CoMOGA"},{"x":-133,"y":-1080,"m":"CoMOGA"},{"x":-131,"y":-1083.8,"m":"CoMOGA"},{"x":-121,"y":-1090.4,"m":"CoMOGA"},{"x":-192,"y":-993.5,"m":"CoMOGA"},{"x":-170,"y":-1013.5,"m":"CoMOGA"},{"x":-164,"y":-1021.2,"m":"CoMOGA"},{"x":-161,"y":-1026,"m":"CoMOGA"}
]
},
"vconcat": [
{"spacing": 38,
 "resolve": {"scale": {"color": "independent", "shape": "independent"}, "legend": {"color": "independent", "shape": "independent"}},
 "hconcat": [
{"width": 239, "height": 150, "data": {"name": "a"}, "title": {"text": "(a) Quadruped"},
 "mark": {"type": "point", "filled": true, "size": 80, "stroke": "black", "clip": true},
 "encoding": {
  "x": {"field": "x", "type": "quantitative", "scale": {"domain": [-39, 540], "nice": false, "zero": false}, "axis": {"title": "Command", "values": [0,100,200,300,400,500], "format": "d"}},
  "y": {"field": "y", "type": "quantitative", "scale": {"domain": [347, 499.4], "nice": false, "zero": false}, "axis": {"title": "Energy Efficiency", "values": [350,375,400,425,450,475], "format": "d"}},
  "color": {"field": "m", "type": "nominal", "scale": {"domain": ["CAPQL","PD-MORL","LP3","CoMOGA","Refer Point"], "range": ["#1f77b4","#ff7f0e","#2ca02c","#d62728","#000000"]}, "legend": {"title": null, "legendX": 5, "legendY": 35, "encode": {"symbols": {"update": {"stroke": {"value": "#000000"}, "strokeWidth": {"value": 0.8}}}}}},
  "shape": {"field": "m", "type": "nominal", "scale": {"domain": ["CAPQL","PD-MORL","LP3","CoMOGA","Refer Point"], "range": ["circle","circle","circle","circle","M-0.7,-0.7L0.7,0.7M-0.7,0.7L0.7,-0.7"]}, "legend": {"title": null, "legendX": 5, "legendY": 35, "encode": {"symbols": {"update": {"stroke": {"value": "#000000"}, "strokeWidth": {"value": 0.8}}}}}},
  "strokeWidth": {"condition": {"test": "datum.m === 'Refer Point'", "value": 1.1}, "value": 0.6},
  "opacity": {"condition": {"test": "datum.m === 'Refer Point'", "value": 1}, "value": 0.8}
 }},
{"width": 239, "height": 150, "data": {"name": "b"}, "title": {"text": "(b) Biped"},
 "mark": {"type": "point", "filled": true, "size": 80, "stroke": "black", "clip": true},
 "encoding": {
  "x": {"field": "x", "type": "quantitative", "scale": {"domain": [-263, 483.5], "nice": false, "zero": false}, "axis": {"title": "Command", "values": [-200,0,200,400], "format": "d"}},
  "y": {"field": "y", "type": "quantitative", "scale": {"domain": [481.8, 499.7], "nice": false, "zero": false}, "axis": {"title": "Energy Efficiency", "values": [485,490,495], "format": "d"}},
  "color": {"field": "m", "type": "nominal", "scale": {"domain": ["CAPQL","PD-MORL","LP3","CoMOGA","Refer Point"], "range": ["#1f77b4","#ff7f0e","#2ca02c","#d62728","#000000"]}, "legend": {"title": null, "legendX": 1, "legendY": 5, "encode": {"symbols": {"update": {"stroke": {"value": "#000000"}, "strokeWidth": {"value": 0.8}}}}}},
  "shape": {"field": "m", "type": "nominal", "scale": {"domain": ["CAPQL","PD-MORL","LP3","CoMOGA","Refer Point"], "range": ["circle","circle","circle","circle","M-0.7,-0.7L0.7,0.7M-0.7,0.7L0.7,-0.7"]}, "legend": {"title": null, "legendX": 1, "legendY": 5, "encode": {"symbols": {"update": {"stroke": {"value": "#000000"}, "strokeWidth": {"value": 0.8}}}}}},
  "strokeWidth": {"condition": {"test": "datum.m === 'Refer Point'", "value": 1.1}, "value": 0.6},
  "opacity": {"condition": {"test": "datum.m === 'Refer Point'", "value": 1}, "value": 0.8}
 }},
{"width": 242, "height": 150, "data": {"name": "c"}, "title": {"text": "(c) Multi-Point-Goal"},
 "mark": {"type": "point", "filled": true, "size": 80, "stroke": "black", "clip": true},
 "encoding": {
  "x": {"field": "x", "type": "quantitative", "scale": {"domain": [-2.0, 30.4], "nice": false, "zero": false}, "axis": {"title": "Agent1", "values": [0,5,10,15,20,25,30], "format": "d"}},
  "y": {"field": "y", "type": "quantitative", "scale": {"domain": [-4.0, 32.6], "nice": false, "zero": false}, "axis": {"title": "Agent2", "values": [0,10,20,30], "format": "d"}},
  "color": {"field": "m", "type": "nominal", "scale": {"domain": ["CAPQL","PD-MORL","LP3","CoMOGA","Refer Point"], "range": ["#1f77b4","#ff7f0e","#2ca02c","#d62728","#000000"]}, "legend": {"title": null, "legendX": 6, "legendY": 65, "encode": {"symbols": {"update": {"stroke": {"value": "#000000"}, "strokeWidth": {"value": 0.8}}}}}},
  "shape": {"field": "m", "type": "nominal", "scale": {"domain": ["CAPQL","PD-MORL","LP3","CoMOGA","Refer Point"], "range": ["circle","circle","circle","circle","M-0.7,-0.7L0.7,0.7M-0.7,0.7L0.7,-0.7"]}, "legend": {"title": null, "legendX": 6, "legendY": 65, "encode": {"symbols": {"update": {"stroke": {"value": "#000000"}, "strokeWidth": {"value": 0.8}}}}}},
  "strokeWidth": {"condition": {"test": "datum.m === 'Refer Point'", "value": 1.1}, "value": 0.6},
  "opacity": {"condition": {"test": "datum.m === 'Refer Point'", "value": 1}, "value": 0.8}
 }},
{"width": 242, "height": 150, "data": {"name": "d"}, "title": {"text": "(d) Multi-Car-Goal"},
 "mark": {"type": "point", "filled": true, "size": 80, "stroke": "black", "clip": true},
 "encoding": {
  "x": {"field": "x", "type": "quantitative", "scale": {"domain": [-3.05, 35.9], "nice": false, "zero": false}, "axis": {"title": "Agent1", "values": [0,10,20,30], "format": "d"}},
  "y": {"field": "y", "type": "quantitative", "scale": {"domain": [-5.3, 36.2], "nice": false, "zero": false}, "axis": {"title": "Agent2", "values": [0,10,20,30], "format": "d"}},
  "color": {"field": "m", "type": "nominal", "scale": {"domain": ["CAPQL","PD-MORL","LP3","CoMOGA","Refer Point"], "range": ["#1f77b4","#ff7f0e","#2ca02c","#d62728","#000000"]}, "legend": {"title": null, "legendX": 5, "legendY": 65, "encode": {"symbols": {"update": {"stroke": {"value": "#000000"}, "strokeWidth": {"value": 0.8}}}}}},
  "shape": {"field": "m", "type": "nominal", "scale": {"domain": ["CAPQL","PD-MORL","LP3","CoMOGA","Refer Point"], "range": ["circle","circle","circle","circle","M-0.7,-0.7L0.7,0.7M-0.7,0.7L0.7,-0.7"]}, "legend": {"title": null, "legendX": 5, "legendY": 65, "encode": {"symbols": {"update": {"stroke": {"value": "#000000"}, "strokeWidth": {"value": 0.8}}}}}},
  "strokeWidth": {"condition": {"test": "datum.m === 'Refer Point'", "value": 1.1}, "value": 0.6},
  "opacity": {"condition": {"test": "datum.m === 'Refer Point'", "value": 1}, "value": 0.8}
 }}
]},
{"spacing": 38,
 "resolve": {"scale": {"color": "independent", "shape": "independent"}, "legend": {"color": "independent", "shape": "independent"}},
 "hconcat": [
{"width": 234, "height": 150, "data": {"name": "e"}, "title": {"text": "(e) Single-Point-Goal"},
 "mark": {"type": "point", "filled": true, "size": 80, "stroke": "black", "clip": true},
 "encoding": {
  "x": {"field": "x", "type": "quantitative", "scale": {"domain": [-2.1, 29.4], "nice": false, "zero": false}, "axis": {"title": "Goal", "values": [0,5,10,15,20,25], "format": "d"}},
  "y": {"field": "y", "type": "quantitative", "scale": {"domain": [-2.79, 0.25], "nice": false, "zero": false}, "axis": {"title": "Energy Efficiency", "values": [0,-0.5,-1,-1.5,-2,-2.5], "format": ".1f"}},
  "color": {"field": "m", "type": "nominal", "scale": {"domain": ["CAPQL","PD-MORL","LP3","CoMOGA","Refer Point"], "range": ["#1f77b4","#ff7f0e","#2ca02c","#d62728","#000000"]}, "legend": {"title": null, "legendX": 6, "legendY": 65, "encode": {"symbols": {"update": {"stroke": {"value": "#000000"}, "strokeWidth": {"value": 0.8}}}}}},
  "shape": {"field": "m", "type": "nominal", "scale": {"domain": ["CAPQL","PD-MORL","LP3","CoMOGA","Refer Point"], "range": ["circle","circle","circle","circle","M-0.7,-0.7L0.7,0.7M-0.7,0.7L0.7,-0.7"]}, "legend": {"title": null, "legendX": 6, "legendY": 65, "encode": {"symbols": {"update": {"stroke": {"value": "#000000"}, "strokeWidth": {"value": 0.8}}}}}},
  "strokeWidth": {"condition": {"test": "datum.m === 'Refer Point'", "value": 1.1}, "value": 0.6},
  "opacity": {"condition": {"test": "datum.m === 'Refer Point'", "value": 1}, "value": 0.8}
 }},
{"width": 234, "height": 150, "data": {"name": "f"}, "title": {"text": "(f) Single-Car-Goal"},
 "mark": {"type": "point", "filled": true, "size": 80, "stroke": "black", "clip": true},
 "encoding": {
  "x": {"field": "x", "type": "quantitative", "scale": {"domain": [-2.2, 37.7], "nice": false, "zero": false}, "axis": {"title": "Goal", "values": [0,10,20,30], "format": "d"}},
  "y": {"field": "y", "type": "quantitative", "scale": {"domain": [-0.527, 0.047], "nice": false, "zero": false}, "axis": {"title": "Energy Efficiency", "values": [0,-0.1,-0.2,-0.3,-0.4,-0.5], "format": ".1f"}},
  "color": {"field": "m", "type": "nominal", "scale": {"domain": ["CAPQL","PD-MORL","LP3","CoMOGA","Refer Point"], "range": ["#1f77b4","#ff7f0e","#2ca02c","#d62728","#000000"]}, "legend": {"title": null, "legendX": 70, "legendY": 65, "encode": {"symbols": {"update": {"stroke": {"value": "#000000"}, "strokeWidth": {"value": 0.8}}}}}},
  "shape": {"field": "m", "type": "nominal", "scale": {"domain": ["CAPQL","PD-MORL","LP3","CoMOGA","Refer Point"], "range": ["circle","circle","circle","circle","M-0.7,-0.7L0.7,0.7M-0.7,0.7L0.7,-0.7"]}, "legend": {"title": null, "legendX": 70, "legendY": 65, "encode": {"symbols": {"update": {"stroke": {"value": "#000000"}, "strokeWidth": {"value": 0.8}}}}}},
  "strokeWidth": {"condition": {"test": "datum.m === 'Refer Point'", "value": 1.1}, "value": 0.6},
  "opacity": {"condition": {"test": "datum.m === 'Refer Point'", "value": 1}, "value": 0.8}
 }},
{"width": 231, "height": 150, "data": {"name": "g"}, "title": {"text": "(g) Half-Cheetah"},
 "mark": {"type": "point", "filled": true, "size": 80, "stroke": "black", "clip": true},
 "encoding": {
  "x": {"field": "x", "type": "quantitative", "scale": {"domain": [-1003, 10951], "nice": false, "zero": false}, "axis": {"title": "Velocity", "values": [0,2000,4000,6000,8000,10000], "format": "d"}},
  "y": {"field": "y", "type": "quantitative", "scale": {"domain": [-374.5, 33.6], "nice": false, "zero": false}, "axis": {"title": "Energy Efficiency", "values": [0,-100,-200,-300], "format": "d"}},
  "color": {"field": "m", "type": "nominal", "scale": {"domain": ["CAPQL","PD-MORL","LP3","CoMOGA","Refer Point"], "range": ["#1f77b4","#ff7f0e","#2ca02c","#d62728","#000000"]}, "legend": {"title": null, "legendX": 132, "legendY": 6, "encode": {"symbols": {"update": {"stroke": {"value": "#000000"}, "strokeWidth": {"value": 0.8}}}}}},
  "shape": {"field": "m", "type": "nominal", "scale": {"domain": ["CAPQL","PD-MORL","LP3","CoMOGA","Refer Point"], "range": ["circle","circle","circle","circle","M-0.7,-0.7L0.7,0.7M-0.7,0.7L0.7,-0.7"]}, "legend": {"title": null, "legendX": 132, "legendY": 6, "encode": {"symbols": {"update": {"stroke": {"value": "#000000"}, "strokeWidth": {"value": 0.8}}}}}},
  "strokeWidth": {"condition": {"test": "datum.m === 'Refer Point'", "value": 1.1}, "value": 0.6},
  "opacity": {"condition": {"test": "datum.m === 'Refer Point'", "value": 1}, "value": 0.8}
 }},
{"width": 224, "height": 150, "data": {"name": "h"}, "title": {"text": "(h) Water-Reservoir"},
 "mark": {"type": "point", "filled": true, "size": 80, "stroke": "black", "clip": true},
 "encoding": {
  "x": {"field": "x", "type": "quantitative", "scale": {"domain": [-402, -26.5], "nice": false, "zero": false}, "axis": {"title": "Excess", "values": [-300,-200,-100], "format": "d"}},
  "y": {"field": "y", "type": "quantitative", "scale": {"domain": [-1092.3, -919.6], "nice": false, "zero": false}, "axis": {"title": "Deficit", "values": [-925,-950,-975,-1000,-1025,-1050,-1075], "format": "d"}},
  "color": {"field": "m", "type": "nominal", "scale": {"domain": ["CAPQL","PD-MORL","LP3","CoMOGA","Refer Point"], "range": ["#1f77b4","#ff7f0e","#2ca02c","#d62728","#000000"]}, "legend": {"title": null, "legendX": 5, "legendY": 65, "encode": {"symbols": {"update": {"stroke": {"value": "#000000"}, "strokeWidth": {"value": 0.8}}}}}},
  "shape": {"field": "m", "type": "nominal", "scale": {"domain": ["CAPQL","PD-MORL","LP3","CoMOGA","Refer Point"], "range": ["circle","circle","circle","circle","M-0.7,-0.7L0.7,0.7M-0.7,0.7L0.7,-0.7"]}, "legend": {"title": null, "legendX": 5, "legendY": 65, "encode": {"symbols": {"update": {"stroke": {"value": "#000000"}, "strokeWidth": {"value": 0.8}}}}}},
  "strokeWidth": {"condition": {"test": "datum.m === 'Refer Point'", "value": 1.1}, "value": 0.6},
  "opacity": {"condition": {"test": "datum.m === 'Refer Point'", "value": 1}, "value": 0.8}
 }}
]}
],
"config": {
 "font": "DejaVu Sans",
 "view": {"stroke": "#4d4d4d", "strokeWidth": 1},
 "axis": {"grid": true, "gridColor": "#b0b0b0", "gridOpacity": 0.6, "gridWidth": 0.8, "domain": false, "tickColor": "#333333", "tickSize": 3.5, "tickWidth": 0.8, "labelFont": "DejaVu Sans", "labelFontSize": 10, "labelColor": "#000000", "labelPadding": 2.5, "labelOverlap": false, "labelFlush": false, "titleFont": "DejaVu Sans", "titleFontSize": 10, "titleFontWeight": "normal", "titleColor": "#000000"},
 "axisX": {"titlePadding": 2},
 "axisY": {"titlePadding": 4},
 "legend": {"orient": "none", "fillColor": "rgba(255,255,255,0.8)", "strokeColor": "#cccccc", "cornerRadius": 3, "padding": 4, "symbolSize": 80, "symbolStrokeColor": "#000000", "symbolStrokeWidth": 0.8, "symbolOpacity": 0.8, "labelFont": "DejaVu Sans", "labelFontSize": 10, "labelColor": "#000000", "rowPadding": 4.5, "labelOffset": 12, "symbolOffset": 5},
 "title": {"font": "Liberation Serif", "fontSize": 22, "fontWeight": "normal", "color": "#000000", "orient": "bottom", "frame": "bounds", "anchor": "middle", "offset": 22}
}
}
